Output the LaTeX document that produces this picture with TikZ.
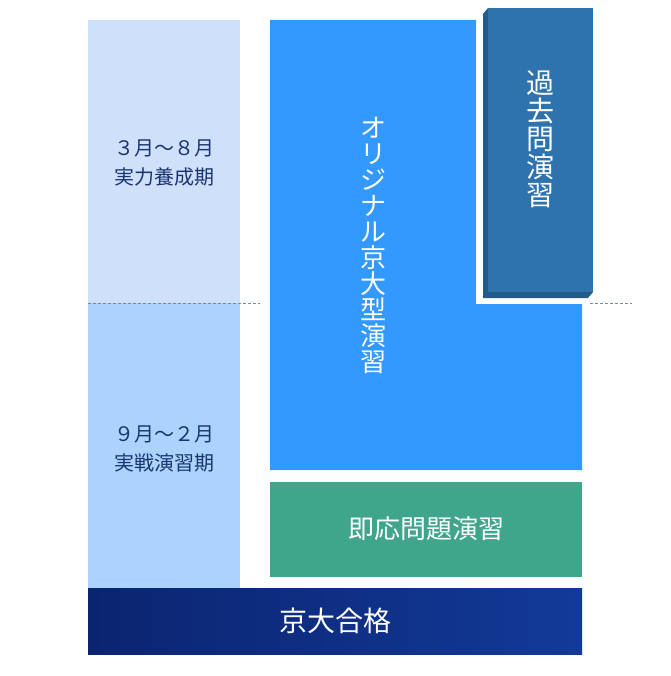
\documentclass[tikz,border=0pt]{standalone}
\usepackage{fontspec}
\newfontfamily\jp{Noto Sans CJK JP}
\definecolor{lt1}{HTML}{CFE0FB}
\definecolor{lt2}{HTML}{ABD3FB}
\definecolor{bl}{HTML}{3399FF}
\definecolor{dk}{HTML}{2E72AE}
\definecolor{dkside}{HTML}{245A88}
\definecolor{gr}{HTML}{3FA68B}
\definecolor{nv1}{HTML}{0B2470}
\definecolor{nv2}{HTML}{123A98}
\definecolor{lbl}{HTML}{1A3570}
\begin{document}
\begin{tikzpicture}[x=1pt,y=-1pt,
  lefttxt/.style={font=\jp\fontsize{20}{29}\selectfont,text=lbl,align=center},
  vert/.style={font=\jp\fontsize{#1}{#1}\selectfont,text=white,align=center},
  dashln/.style={draw=lbl!60,dashed,dash pattern=on 3pt off 2pt,line width=0.8pt}]
\useasboundingbox (0,0) rectangle (670,676);
\fill[lt1] (88,20) rectangle (240,303);
\fill[lt2] (88,303) rectangle (240,588);
\fill[bl] (270,20) -- (476,20) -- (476,304) -- (582,304) -- (582,470) -- (270,470) -- cycle;
\fill[dkside] (483,14) -- (488,8) -- (488,292) -- (593,292) -- (588,298) -- (483,298) -- cycle;
\fill[dk] (488,8) rectangle (593,292);
\fill[gr] (270,482) rectangle (582,577);
\shade[left color=nv1,right color=nv2] (88,588) rectangle (582,654);
\coordinate (d1) at (88,303); \coordinate (d2) at (260,303);
\coordinate (d3) at (590,303); \coordinate (d4) at (632,303);
\draw[dashln] (d1) -- (d2); \draw[dashln] (d3) -- (d4);
\node[lefttxt] (t1) at (164,163) {３月～８月\\実力養成期};
\node[lefttxt] (t2) at (164,449) {９月～２月\\実戦演習期};
\node[vert=26] (o) at (373,245) {オ\\リ\\ジ\\ナ\\ル\\京\\大\\型\\演\\習};
\node[vert=28] (k) at (540,139) {過\\去\\問\\演\\習};
\node[font=\jp\fontsize{26}{26}\selectfont,text=white] (s) at (426,529) {即応問題演習};
\node[font=\jp\fontsize{28}{28}\selectfont,text=white] (g) at (335,621) {京大合格};
\end{tikzpicture}
\end{document}
